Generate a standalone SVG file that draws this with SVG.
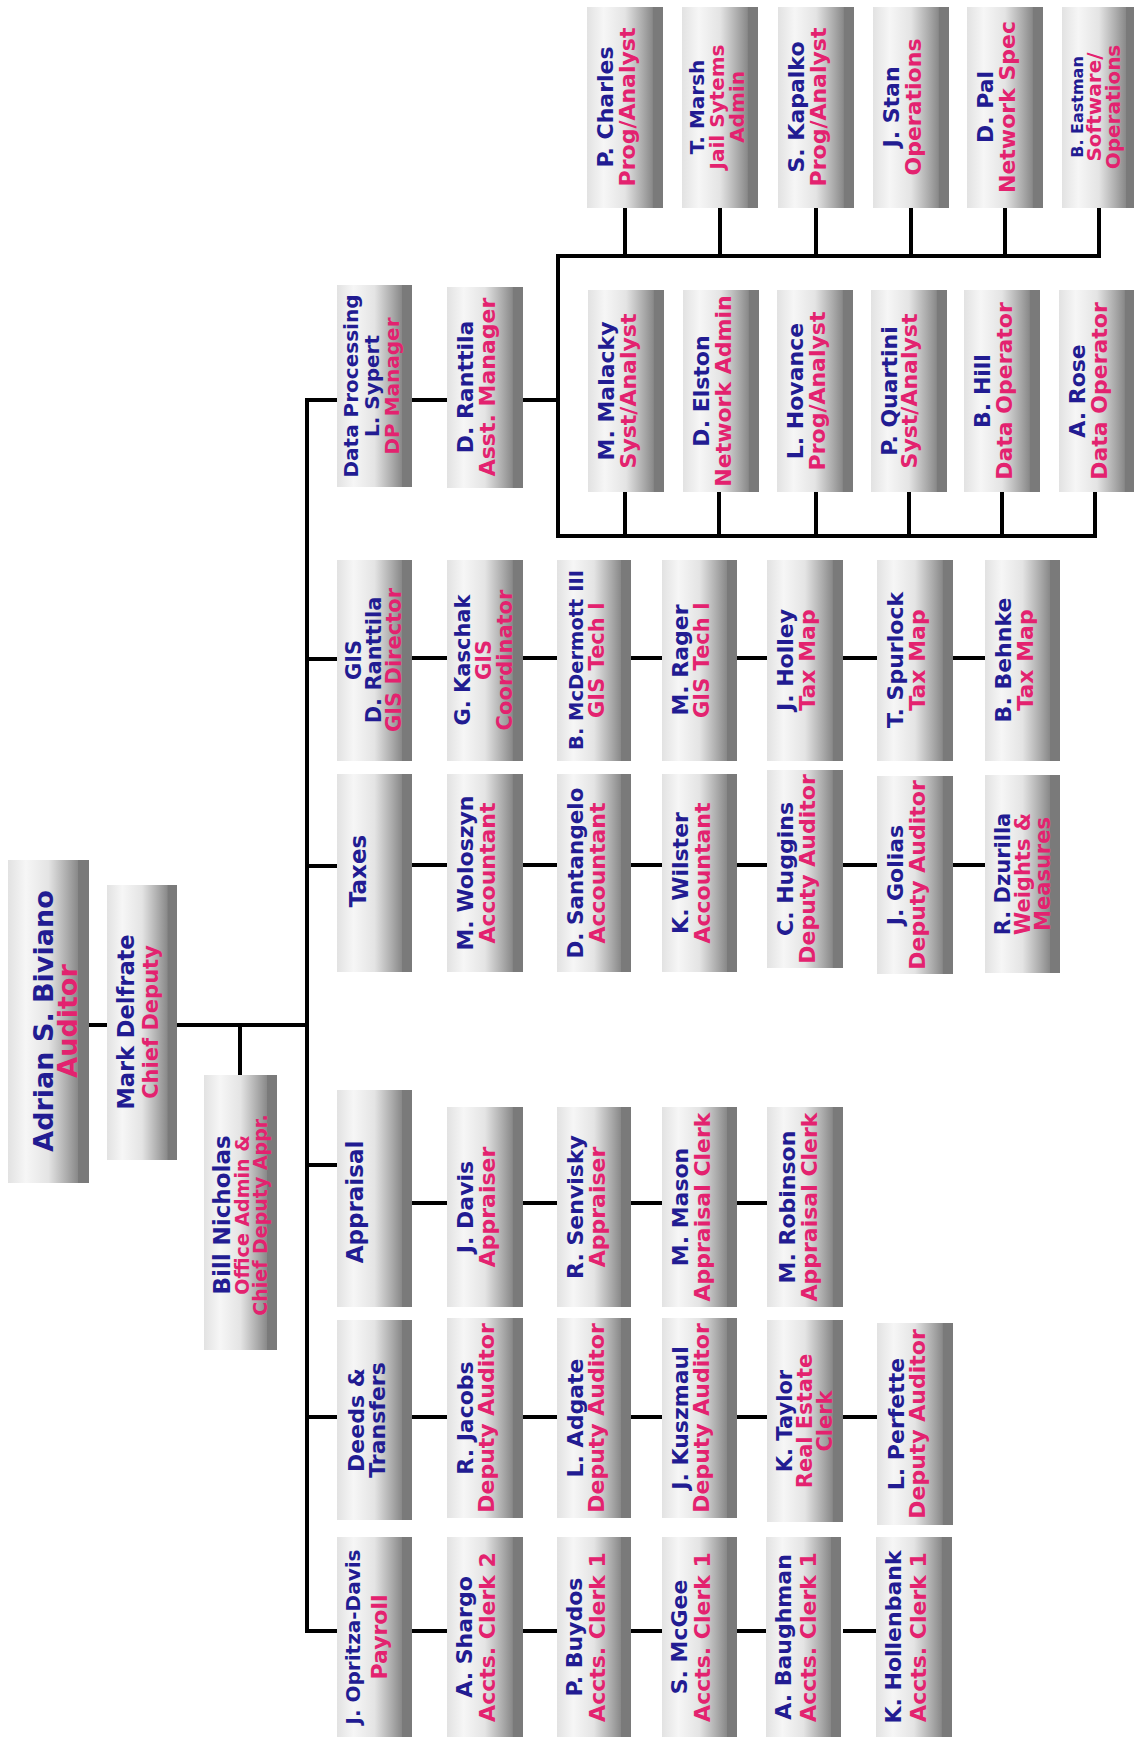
<svg xmlns="http://www.w3.org/2000/svg" width="1134" height="1739" viewBox="0 0 1134 1739">
<defs>
<linearGradient id="g" x1="0" y1="0" x2="1" y2="0">
<stop offset="0" stop-color="#e2e2e2"/>
<stop offset="0.22" stop-color="#f6f6f6"/>
<stop offset="0.5" stop-color="#e4e4e4"/>
<stop offset="0.74" stop-color="#a9a9a9"/>
<stop offset="0.86" stop-color="#8a8a8a"/>
<stop offset="0.87" stop-color="#7a7a7a"/>
<stop offset="1" stop-color="#7a7a7a"/>
</linearGradient>
<style>
.box{fill:url(#g)}
.c{stroke:#000;stroke-width:4;fill:none;stroke-linejoin:miter}
.t{font-family:"DejaVu Sans","Liberation Sans",sans-serif;font-weight:bold;text-anchor:middle;font-size:22px}
.n{fill:#221c92}
.r{fill:#e3226f}
</style>
</defs>
<rect width="1134" height="1739" fill="#fff"/>

<g id="connectors">
<path class="c" d="M89 1025 H107"/>
<path class="c" d="M177 1025 H307"/>
<path class="c" d="M240 1025 V1075"/>
<path class="c" d="M337 400 H307 V1631 H337"/>
<path class="c" d="M307 659 H337"/>
<path class="c" d="M307 866 H337"/>
<path class="c" d="M307 1165 H337"/>
<path class="c" d="M307 1417 H337"/>
<path class="c" d="M412 400 H447"/>
<path class="c" d="M523 400 H558"/>
<path class="c" d="M1099 208 V256 H558 V536 H1095 V492"/>
<path class="c" d="M625 256 V208 M720 256 V208 M816 256 V208 M911 256 V208 M1005 256 V208"/>
<path class="c" d="M625 536 V492 M719 536 V492 M816 536 V492 M909 536 V492 M1002 536 V492"/>
<path class="c" d="M412 658 H447 M523 658 H557 M631 658 H662 M737 658 H767 M843 658 H877 M953 658 H985"/>
<path class="c" d="M412 865 H447 M523 865 H557 M631 865 H662 M737 865 H767 M843 865 H877 M953 865 H985"/>
<path class="c" d="M412 1203 H447 M523 1203 H557 M631 1203 H662 M737 1203 H767"/>
<path class="c" d="M412 1417 H447 M523 1417 H557 M631 1417 H662 M737 1417 H767 M843 1417 H877"/>
<path class="c" d="M412 1631 H447 M523 1631 H557 M631 1631 H662 M737 1631 H767 M843 1631 H877"/>
</g>

<g id="n-adrian"><rect class="box" x="8" y="860" width="81" height="323"/><text class="t" transform="translate(8,1021) rotate(-90)" style="font-size:27px"><tspan class="n" x="0" y="45">Adrian S. Biviano</tspan><tspan class="r" x="0" y="69">Auditor</tspan></text></g>
<g id="n-mark"><rect class="box" x="107" y="885" width="70" height="275"/><text class="t" transform="translate(107,1022) rotate(-90)"><tspan class="n" x="0" y="27" style="font-size:22.5px">Mark Delfrate</tspan><tspan class="r" x="0" y="51" style="font-size:21px">Chief Deputy</tspan></text></g>
<g id="n-bill"><rect class="box" x="204" y="1075" width="73" height="275"/><text class="t" transform="translate(204,1215) rotate(-90)" style="font-size:19px"><tspan class="n" x="0" y="26" style="font-size:23px">Bill Nicholas</tspan><tspan class="r" x="0" y="45">Office Admin &amp;</tspan><tspan class="r" x="0" y="63">Chief Deputy Appr.</tspan></text></g>

<g id="n-dp"><rect class="box" x="337" y="285" width="75" height="202"/><text class="t" transform="translate(337,386) rotate(-90)" style="font-size:20px"><tspan class="n" x="0" y="21">Data Processing</tspan><tspan class="n" x="0" y="42">L. Sypert</tspan><tspan class="r" x="0" y="62">DP Manager</tspan></text></g>
<g id="n-dranttila-dp"><rect class="box" x="447" y="287" width="76" height="201"/><text class="t" transform="translate(447,387) rotate(-90)"><tspan class="n" x="0" y="26">D. Ranttila</tspan><tspan class="r" x="0" y="48">Asst. Manager</tspan></text></g>

<g id="n-pcharles"><rect class="box" x="587" y="7" width="76" height="201"/><text class="t" transform="translate(587,107) rotate(-90)"><tspan class="n" x="0" y="26">P. Charles</tspan><tspan class="r" x="0" y="48">Prog/Analyst</tspan></text></g>
<g id="n-tmarsh"><rect class="box" x="682" y="7" width="76" height="201"/><text class="t" transform="translate(682,107) rotate(-90)" style="font-size:20px"><tspan class="n" x="0" y="22">T. Marsh</tspan><tspan class="r" x="0" y="42">Jail Sytems</tspan><tspan class="r" x="0" y="62">Admin</tspan></text></g>
<g id="n-skapalko"><rect class="box" x="778" y="7" width="76" height="201"/><text class="t" transform="translate(778,107) rotate(-90)"><tspan class="n" x="0" y="26">S. Kapalko</tspan><tspan class="r" x="0" y="48">Prog/Analyst</tspan></text></g>
<g id="n-jstan"><rect class="box" x="873" y="7" width="76" height="201"/><text class="t" transform="translate(873,107) rotate(-90)"><tspan class="n" x="0" y="26">J. Stan</tspan><tspan class="r" x="0" y="48">Operations</tspan></text></g>
<g id="n-dpal"><rect class="box" x="967" y="7" width="76" height="201"/><text class="t" transform="translate(967,107) rotate(-90)"><tspan class="n" x="0" y="26">D. Pal</tspan><tspan class="r" x="0" y="48">Network Spec</tspan></text></g>
<g id="n-beastman"><rect class="box" x="1062" y="7" width="74" height="201"/><text class="t" transform="translate(1062,107) rotate(-90)" style="font-size:20px"><tspan class="n" x="0" y="21" style="font-size:16px">B. Eastman</tspan><tspan class="r" x="0" y="39">Software/</tspan><tspan class="r" x="0" y="58">Operations</tspan></text></g>

<g id="n-mmalacky"><rect class="box" x="588" y="290" width="76" height="202"/><text class="t" transform="translate(588,391) rotate(-90)"><tspan class="n" x="0" y="26">M. Malacky</tspan><tspan class="r" x="0" y="48">Syst/Analyst</tspan></text></g>
<g id="n-delston"><rect class="box" x="683" y="290" width="76" height="202"/><text class="t" transform="translate(683,391) rotate(-90)"><tspan class="n" x="0" y="26">D. Elston</tspan><tspan class="r" x="0" y="48">Network Admin</tspan></text></g>
<g id="n-lhovance"><rect class="box" x="777" y="290" width="76" height="202"/><text class="t" transform="translate(777,391) rotate(-90)"><tspan class="n" x="0" y="26">L. Hovance</tspan><tspan class="r" x="0" y="48">Prog/Analyst</tspan></text></g>
<g id="n-pquartini"><rect class="box" x="871" y="290" width="76" height="202"/><text class="t" transform="translate(871,391) rotate(-90)"><tspan class="n" x="0" y="26">P. Quartini</tspan><tspan class="r" x="0" y="46">Syst/Analyst</tspan></text></g>
<g id="n-bhill"><rect class="box" x="964" y="290" width="76" height="202"/><text class="t" transform="translate(964,391) rotate(-90)"><tspan class="n" x="0" y="26">B. Hill</tspan><tspan class="r" x="0" y="48">Data Operator</tspan></text></g>
<g id="n-arose"><rect class="box" x="1059" y="290" width="76" height="202"/><text class="t" transform="translate(1059,391) rotate(-90)"><tspan class="n" x="0" y="26">A. Rose</tspan><tspan class="r" x="0" y="48">Data Operator</tspan></text></g>

<g id="n-gis"><rect class="box" x="337" y="560" width="75" height="201"/><text class="t" transform="translate(337,660) rotate(-90)" style="font-size:21px"><tspan class="n" x="0" y="24">GIS</tspan><tspan class="n" x="0" y="44">D. Ranttila</tspan><tspan class="r" x="0" y="64">GIS Director</tspan></text></g>
<g id="n-gkaschak"><rect class="box" x="447" y="560" width="76" height="201"/><text class="t" transform="translate(447,660) rotate(-90)" style="font-size:21px"><tspan class="n" x="0" y="23">G. Kaschak</tspan><tspan class="r" x="0" y="44">GIS</tspan><tspan class="r" x="0" y="65">Coordinator</tspan></text></g>
<g id="n-bmcdermott"><rect class="box" x="557" y="560" width="74" height="201"/><text class="t" transform="translate(557,660) rotate(-90)"><tspan class="n" x="0" y="26" style="font-size:19.5px">B. McDermott III</tspan><tspan class="r" x="0" y="47" style="font-size:21px">GIS Tech I</tspan></text></g>
<g id="n-mrager"><rect class="box" x="662" y="560" width="75" height="201"/><text class="t" transform="translate(662,660) rotate(-90)"><tspan class="n" x="0" y="26">M. Rager</tspan><tspan class="r" x="0" y="47" style="font-size:21px">GIS Tech I</tspan></text></g>
<g id="n-jholley"><rect class="box" x="767" y="560" width="76" height="201"/><text class="t" transform="translate(767,660) rotate(-90)"><tspan class="n" x="0" y="26">J. Holley</tspan><tspan class="r" x="0" y="48">Tax Map</tspan></text></g>
<g id="n-tspurlock"><rect class="box" x="877" y="560" width="76" height="201"/><text class="t" transform="translate(877,660) rotate(-90)"><tspan class="n" x="0" y="26">T. Spurlock</tspan><tspan class="r" x="0" y="48">Tax Map</tspan></text></g>
<g id="n-bbehnke"><rect class="box" x="985" y="560" width="75" height="201"/><text class="t" transform="translate(985,660) rotate(-90)"><tspan class="n" x="0" y="26">B. Behnke</tspan><tspan class="r" x="0" y="48">Tax Map</tspan></text></g>

<g id="n-taxes"><rect class="box" x="337" y="774" width="75" height="198"/><text class="t" transform="translate(337,871) rotate(-90)" style="font-size:23px"><tspan class="n" x="0" y="29">Taxes</tspan></text></g>
<g id="n-mwoloszyn"><rect class="box" x="447" y="774" width="76" height="198"/><text class="t" transform="translate(447,873) rotate(-90)"><tspan class="n" x="0" y="26">M. Woloszyn</tspan><tspan class="r" x="0" y="48">Accountant</tspan></text></g>
<g id="n-dsantangelo"><rect class="box" x="557" y="774" width="74" height="198"/><text class="t" transform="translate(557,873) rotate(-90)"><tspan class="n" x="0" y="26" style="font-size:21.5px">D. Santangelo</tspan><tspan class="r" x="0" y="48">Accountant</tspan></text></g>
<g id="n-kwilster"><rect class="box" x="662" y="774" width="75" height="198"/><text class="t" transform="translate(662,873) rotate(-90)"><tspan class="n" x="0" y="26">K. Wilster</tspan><tspan class="r" x="0" y="48">Accountant</tspan></text></g>
<g id="n-chuggins"><rect class="box" x="767" y="770" width="76" height="198"/><text class="t" transform="translate(767,869) rotate(-90)"><tspan class="n" x="0" y="26">C. Huggins</tspan><tspan class="r" x="0" y="48">Deputy Auditor</tspan></text></g>
<g id="n-jgolias"><rect class="box" x="877" y="776" width="76" height="198"/><text class="t" transform="translate(877,875) rotate(-90)"><tspan class="n" x="0" y="26">J. Golias</tspan><tspan class="r" x="0" y="48">Deputy Auditor</tspan></text></g>
<g id="n-rdzurilla"><rect class="box" x="985" y="775" width="75" height="198"/><text class="t" transform="translate(985,874) rotate(-90)" style="font-size:21px"><tspan class="n" x="0" y="25">R. Dzurilla</tspan><tspan class="r" x="0" y="45">Weights &amp;</tspan><tspan class="r" x="0" y="65">Measures</tspan></text></g>

<g id="n-appraisal"><rect class="box" x="337" y="1090" width="75" height="217"/><text class="t" transform="translate(337,1202) rotate(-90)" style="font-size:23px"><tspan class="n" x="0" y="26">Appraisal</tspan></text></g>
<g id="n-jdavis"><rect class="box" x="447" y="1107" width="76" height="200"/><text class="t" transform="translate(447,1207) rotate(-90)"><tspan class="n" x="0" y="26">J. Davis</tspan><tspan class="r" x="0" y="48">Appraiser</tspan></text></g>
<g id="n-rsenvisky"><rect class="box" x="557" y="1107" width="74" height="200"/><text class="t" transform="translate(557,1207) rotate(-90)"><tspan class="n" x="0" y="26">R. Senvisky</tspan><tspan class="r" x="0" y="48">Appraiser</tspan></text></g>
<g id="n-mmason"><rect class="box" x="662" y="1107" width="75" height="200"/><text class="t" transform="translate(662,1207) rotate(-90)"><tspan class="n" x="0" y="26">M. Mason</tspan><tspan class="r" x="0" y="48">Appraisal Clerk</tspan></text></g>
<g id="n-mrobinson"><rect class="box" x="767" y="1107" width="76" height="200"/><text class="t" transform="translate(767,1207) rotate(-90)"><tspan class="n" x="0" y="28">M. Robinson</tspan><tspan class="r" x="0" y="50">Appraisal Clerk</tspan></text></g>

<g id="n-deeds"><rect class="box" x="337" y="1320" width="75" height="200"/><text class="t" transform="translate(337,1420) rotate(-90)"><tspan class="n" x="0" y="27">Deeds &amp;</tspan><tspan class="n" x="0" y="48">Transfers</tspan></text></g>
<g id="n-rjacobs"><rect class="box" x="447" y="1318" width="76" height="200"/><text class="t" transform="translate(447,1418) rotate(-90)"><tspan class="n" x="0" y="26">R. Jacobs</tspan><tspan class="r" x="0" y="47">Deputy Auditor</tspan></text></g>
<g id="n-ladgate"><rect class="box" x="557" y="1318" width="74" height="200"/><text class="t" transform="translate(557,1418) rotate(-90)"><tspan class="n" x="0" y="26">L. Adgate</tspan><tspan class="r" x="0" y="47">Deputy Auditor</tspan></text></g>
<g id="n-jkuszmaul"><rect class="box" x="662" y="1318" width="75" height="200"/><text class="t" transform="translate(662,1418) rotate(-90)"><tspan class="n" x="0" y="26">J. Kuszmaul</tspan><tspan class="r" x="0" y="47">Deputy Auditor</tspan></text></g>
<g id="n-ktaylor"><rect class="box" x="767" y="1320" width="76" height="202"/><text class="t" transform="translate(767,1421) rotate(-90)" style="font-size:21px"><tspan class="n" x="0" y="25">K. Taylor</tspan><tspan class="r" x="0" y="45">Real Estate</tspan><tspan class="r" x="0" y="65">Clerk</tspan></text></g>
<g id="n-lperfette"><rect class="box" x="877" y="1323" width="76" height="202"/><text class="t" transform="translate(877,1424) rotate(-90)"><tspan class="n" x="0" y="27">L. Perfette</tspan><tspan class="r" x="0" y="48">Deputy Auditor</tspan></text></g>

<g id="n-jopritza"><rect class="box" x="337" y="1537" width="75" height="200"/><text class="t" transform="translate(337,1637) rotate(-90)"><tspan class="n" x="0" y="23" style="font-size:20px">J. Opritza-Davis</tspan><tspan class="r" x="0" y="50">Payroll</tspan></text></g>
<g id="n-ashargo"><rect class="box" x="447" y="1537" width="76" height="200"/><text class="t" transform="translate(447,1637) rotate(-90)"><tspan class="n" x="0" y="25">A. Shargo</tspan><tspan class="r" x="0" y="48">Accts. Clerk 2</tspan></text></g>
<g id="n-pbuydos"><rect class="box" x="557" y="1537" width="74" height="200"/><text class="t" transform="translate(557,1637) rotate(-90)"><tspan class="n" x="0" y="25">P. Buydos</tspan><tspan class="r" x="0" y="48">Accts. Clerk 1</tspan></text></g>
<g id="n-smcgee"><rect class="box" x="662" y="1537" width="75" height="200"/><text class="t" transform="translate(662,1637) rotate(-90)"><tspan class="n" x="0" y="25">S. McGee</tspan><tspan class="r" x="0" y="48">Accts. Clerk 1</tspan></text></g>
<g id="n-abaughman"><rect class="box" x="766" y="1537" width="75" height="200"/><text class="t" transform="translate(766,1637) rotate(-90)"><tspan class="n" x="0" y="25">A. Baughman</tspan><tspan class="r" x="0" y="50">Accts. Clerk 1</tspan></text></g>
<g id="n-khollenbank"><rect class="box" x="876" y="1537" width="76" height="200"/><text class="t" transform="translate(876,1637) rotate(-90)"><tspan class="n" x="0" y="25">K. Hollenbank</tspan><tspan class="r" x="0" y="50">Accts. Clerk 1</tspan></text></g>
</svg>
